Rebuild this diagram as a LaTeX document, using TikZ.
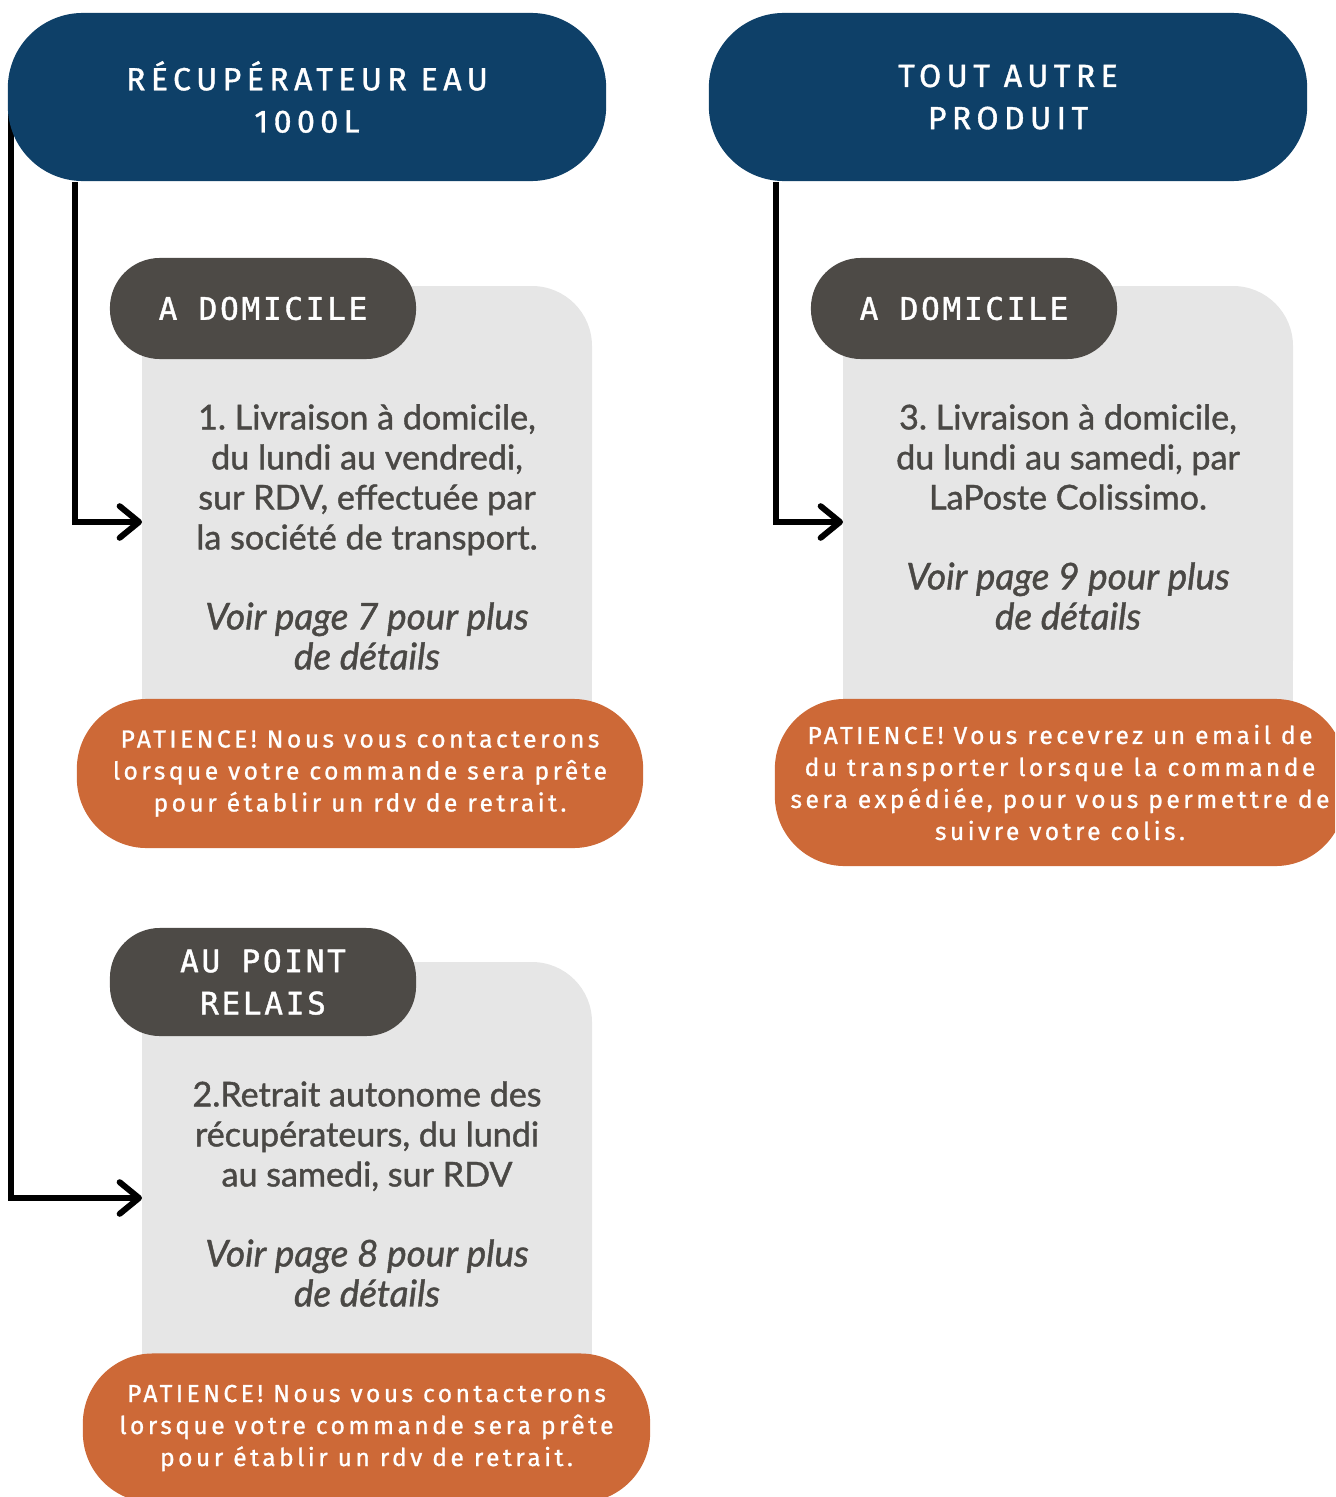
\documentclass[tikz,border=0pt]{standalone}
\usepackage{fontspec}
\setmainfont{Lato}[FakeBold=1.2, ItalicFeatures={FakeBold=1.2}]
\newfontfamily\hdrfont[LetterSpace=17, FakeBold=1.2]{Fira Sans}
\newfontfamily\tagfont[LetterSpace=9, FakeBold=1.4]{DejaVu Sans Mono}
\newfontfamily\notefont[LetterSpace=14, FakeBold=1]{Fira Sans}
\usetikzlibrary{calc,arrows.meta,backgrounds}
\definecolor{navy}{HTML}{0E4068}
\definecolor{slate}{HTML}{4D4A46}
\definecolor{paper}{HTML}{E6E6E6}
\definecolor{rust}{HTML}{CD6937}
\definecolor{ink}{HTML}{4A4845}
\newcommand\seemore{\itshape\fontsize{10.5}{11.38}\selectfont}
\tikzset{
  header/.style={fill=navy, text=white, rounded corners=0.75cm, align=center,
    minimum width=5.98cm, minimum height=1.68cm, inner sep=0pt,
    font=\hdrfont\fontsize{9.1}{12}\selectfont},
  tag/.style={fill=slate, text=white, rounded corners=0.5cm, align=center,
    minimum width=3.06cm, inner sep=0pt,
    font=\tagfont\fontsize{8.8}{12}\selectfont},
  body/.style={text=ink, align=center, inner sep=0pt,
    font=\frenchspacing\fontsize{9.7}{11.38}\selectfont},
  note/.style={fill=rust, text=white, rounded corners=0.7cm, align=center,
    inner sep=0pt, font=\notefont\fontsize{7}{9.1}\selectfont},
  link/.style={line width=1.7pt, -{Straight Barb[length=5.5pt,width=9pt,round]}}
}
\newcommand\paperbox[4]{% x1,y1,x2,y2
  \fill[paper, rounded corners=0.6cm] (#1,#2) rectangle (#3,#4);
  \fill[paper] (#1,#2) rectangle ($(#1,#4)!0.5!(#3,#4)$);
  \fill[paper] ($(#1,#2)!0.5!(#1,#4)$) rectangle (#3,#4);
}
\begin{document}
\begin{tikzpicture}[x=0.01cm, y=-0.01cm]
  \useasboundingbox (0,0) rectangle (1335,1497);
  \clip (0,0) rectangle (1335,1497);

  % headers
  \node[header] (hdrA) at (307,97) {RÉCUPÉRATEUR EAU\\1000L};
  \node[header] (hdrB) at (1008,97) {TOUT AUTRE\\PRODUIT};

  % grey cards
  \paperbox{142}{286}{592}{720}
  \paperbox{843}{286}{1293}{720}
  \paperbox{142}{962}{592}{1370}

  \node[tag, minimum height=1.01cm] (tagA) at (263,308.5) {A DOMICILE};
  \node[tag, minimum height=1.01cm] (tagB) at (964,308.5) {A DOMICILE};
  \node[tag, minimum height=1.08cm] (tagC) at (263,982) {AU POINT\\RELAIS};

  \node[body] (txtA) at (367,537) {1. Livraison à domicile,\\du lundi au vendredi,\\sur RDV, effectuée par\\la société de transport.\\[11.38pt]
    \seemore Voir page 7 pour plus\\\seemore de détails};
  \node[body] (txtB) at (1068,517) {3. Livraison à domicile,\\du lundi au samedi, par\\LaPoste Colissimo.\\[11.38pt]
    \seemore Voir page 9 pour plus\\\seemore de détails};
  \node[body] (txtC) at (367,1194) {2.Retrait autonome des\\récupérateurs, du lundi\\au samedi, sur RDV\\[11.38pt]
    \seemore Voir page 8 pour plus\\\seemore de détails};

  % orange notes
  \node[note, minimum width=5.66cm, minimum height=1.49cm] (noteA) at (360,773.5)
    {PATIENCE! Nous vous contacterons\\lorsque votre commande sera prête\\pour établir un rdv de retrait.};
  \node[note, minimum width=5.70cm, minimum height=1.67cm] (noteB) at (1060,782.5)
    {PATIENCE! Vous recevrez un email de\\du transporter lorsque la commande\\sera expédiée, pour vous permettre de\\suivre votre colis.};
  \node[note, minimum width=5.67cm, minimum height=1.49cm] (noteC) at (366.5,1428)
    {PATIENCE! Nous vous contacterons\\lorsque votre commande sera prête\\pour établir un rdv de retrait.};

  % connectors
  \coordinate (inA) at (142,522);
  \coordinate (inB) at (843,522);
  \coordinate (inC) at (142,1198);
  \begin{scope}[on background layer]
    \draw[link] ($(hdrA.south west)+(68,0)$) |- (inA);
    \draw[link] ($(hdrB.south west)+(68,0)$) |- (inB);
    \draw[link] ($(hdrA.west)+(4,0)$) |- (inC);
  \end{scope}
\end{tikzpicture}
\end{document}
